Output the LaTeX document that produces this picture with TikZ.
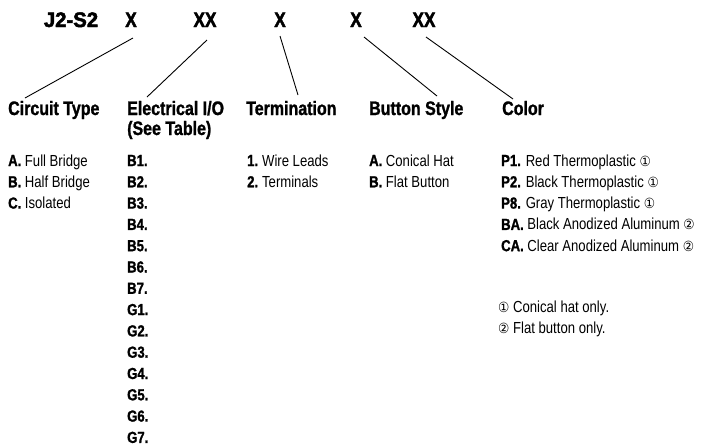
\documentclass[tikz,border=0pt]{standalone}
\usepackage{fontspec}
\setmainfont{Liberation Sans}[FakeStretch=0.82,BoldFeatures={FakeBold=1.2}]
\newfontfamily\hdrfont{Liberation Sans Bold}[FakeStretch=0.82,FakeBold=2.2]
\newfontfamily\symfont{DejaVu Sans}[FakeStretch=0.9]
\newcommand{\cone}{{\symfont\fontsize{14}{14}\selectfont ①}}
\newcommand{\ctwo}{{\symfont\fontsize{14}{14}\selectfont ②}}
\begin{document}
\begin{tikzpicture}[x=1pt,y=-1pt,
  hdr/.style={anchor=base,inner sep=0pt,font=\fontsize{21}{21}\hdrfont},
  head/.style={anchor=base west,inner sep=0pt,align=left,font=\fontsize{19.5}{20}\selectfont\bfseries},
  item/.style={anchor=base west,inner sep=0pt,font=\fontsize{16}{16}\selectfont},
  conn/.style={draw=black,line width=0.9pt}]
\useasboundingbox (0,0) rectangle (713,445);
% header
\node[hdr] (code) at (71,27) {\scalebox{1.18}[1]{J2-S2}};
\node[hdr] (x1) at (131,27) {X};
\node[hdr] (x2) at (205,27) {XX};
\node[hdr] (x3) at (280,27) {X};
\node[hdr] (x4) at (356,27) {X};
\node[hdr] (x5) at (424,27) {XX};
% headings
\node[head] (h1) at (8,115) {Circuit Type};
\node[head] (h2) at (127,115) {Electrical I/O};
\node[head] (h2b) at (127,135) {(See Table)};
\node[head] (h3) at (246,115) {Termination};
\node[head] (h4) at (369,115) {Button Style};
\node[head] (h5) at (502,115) {Color};
% connector ends
\coordinate (a1) at (133,38); \coordinate (b1) at (25,98);
\coordinate (a2) at (207,40); \coordinate (b2) at (147,97);
\coordinate (a3) at (280,36); \coordinate (b3) at (298,95);
\coordinate (a4) at (364,37); \coordinate (b4) at (437,96);
\coordinate (a5) at (426,37); \coordinate (b5) at (513,99);
\draw[conn] (a1) -- (b1);
\draw[conn] (a2) -- (b2);
\draw[conn] (a3) -- (b3);
\draw[conn] (a4) -- (b4);
\draw[conn] (a5) -- (b5);
% circuit type
\node[item] (c1a) at (8,166) {\textbf{A.} Full Bridge};
\node[item] (c1b) at (8,187.3) {\textbf{B.} Half Bridge};
\node[item] (c1c) at (8,208.6) {\textbf{C.} Isolated};
% electrical I/O
\foreach \t [count=\i from 0] in {B1,B2,B3,B4,B5,B6,B7,G1,G2,G3,G4,G5,G6,G7}
  \node[item] (e\i) at (127,166+21.3*\i) {\textbf{\t.}};
% termination
\node[item] (t1) at (247,166) {\textbf{1.}\hspace{4pt}Wire Leads};
\node[item] (t2) at (247,187.3) {\textbf{2.}\hspace{4pt}Terminals};
% button style
\node[item] (s1) at (369,166) {\textbf{A.} Conical Hat};
\node[item] (s2) at (369,187.3) {\textbf{B.} Flat Button};
% color
\node[item] (k1) at (501,166) {\textbf{P1.} Red Thermoplastic \cone};
\node[item] (k2) at (501,187.3) {\textbf{P2.} Black Thermoplastic \cone};
\node[item] (k3) at (501,208.6) {\textbf{P8.} Gray Thermoplastic \cone};
\node[item] (k4) at (501,229.9) {\textbf{BA.} Black Anodized Aluminum \ctwo};
\node[item] (k5) at (501,251.2) {\textbf{CA.} Clear Anodized Aluminum \ctwo};
% notes
\node[item] (n1) at (498,312) {\cone\ Conical hat only.};
\node[item] (n2) at (498,333) {\ctwo\ Flat button only.};
\end{tikzpicture}
\end{document}
